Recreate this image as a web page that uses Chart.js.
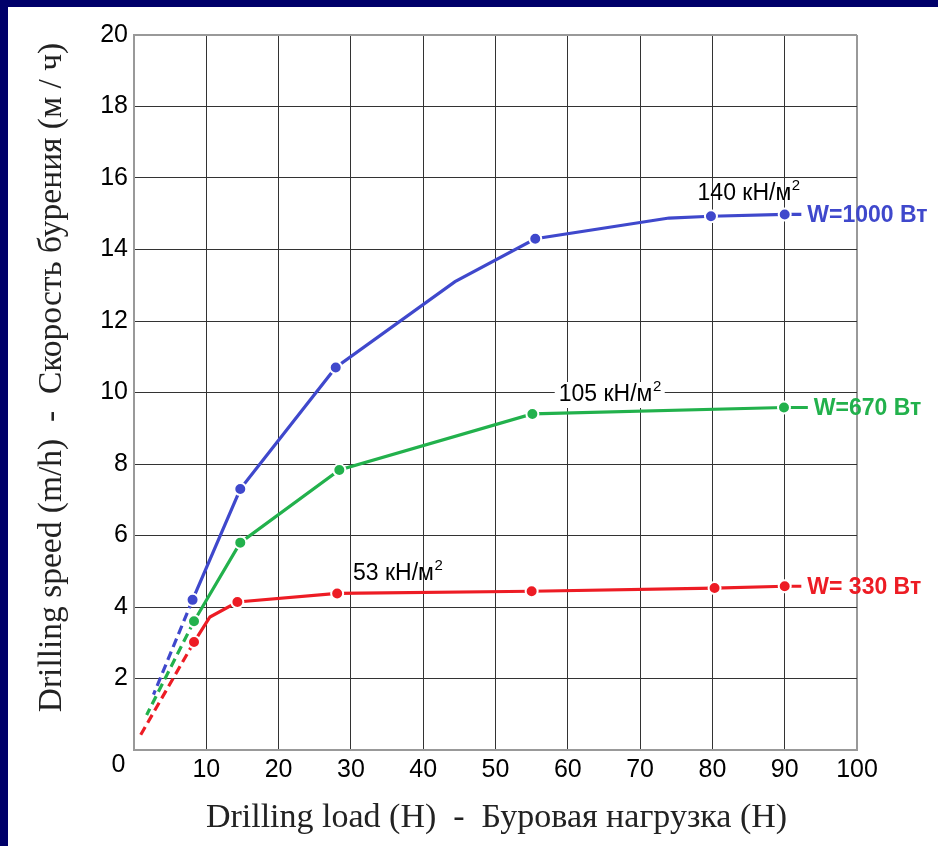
<!DOCTYPE html>
<html>
<head>
<meta charset="utf-8">
<script src="https://cdn.jsdelivr.net/npm/chart.js@4.4.1/dist/chart.umd.min.js"></script>
<style>
    html, body { margin: 0; padding: 0; background: #00006a; width: 938px; height: 846px; overflow: hidden; }
    #wrap { position: absolute; left: 8px; top: 7px; width: 930px; height: 839px; background: #fff; }
</style>
</head>
<body>
<div id="wrap"><canvas id="chart"></canvas></div>
<script>
// Drilling load (H) vs drilling speed (m/h), three power levels.
// "measured" = 1 for plotted dots, 0 for curve vertices between them.
const blueLoad     = [8.1, 14.7, 27.9, 44.4, 55.5, 74.0, 79.8, 90.0, 92.3];
const blueSpeed    = [4.2, 7.3, 10.7, 13.1, 14.3, 14.88, 14.93, 14.98, 14.98];
const blueMeasured = [1, 1, 1, 0, 1, 0, 1, 1, 0];
const blueExtrapLoad  = [8.1, 2.7];
const blueExtrapSpeed = [4.2, 1.55];

const greenLoad     = [8.3, 14.7, 28.4, 55.1, 89.9, 93.2];
const greenSpeed    = [3.6, 5.8, 7.83, 9.4, 9.58, 9.58];
const greenMeasured = [1, 1, 1, 1, 1, 0];
const greenExtrapLoad  = [8.3, 1.75];
const greenExtrapSpeed = [3.6, 0.98];

const redLoad     = [8.3, 10.5, 14.3, 28.1, 55.0, 80.3, 90.0, 92.3];
const redSpeed    = [3.02, 3.72, 4.14, 4.38, 4.44, 4.53, 4.58, 4.58];
const redMeasured = [1, 0, 1, 1, 1, 1, 1, 0];
const redExtrapLoad  = [8.3, 0.83];
const redExtrapSpeed = [3.02, 0.39];

const seriesNames = ['W=1000 Вт', 'W=670 Вт', 'W= 330 Вт'];
const pressureLabels = ['140 кН/м', '105 кН/м', '53 кН/м'];
const pressureLoad  = [85, 65.8, 30.3];
const pressureSpeed = [15.55, 9.93, 4.92];

const xTicks = [0, 10, 20, 30, 40, 50, 60, 70, 80, 90, 100];
const yTicks = [0, 2, 4, 6, 8, 10, 12, 14, 16, 18, 20];

const colors = ['#3f48cc', '#22b14c', '#ed1c24'];
const SANS = '"Liberation Sans", Arial, sans-serif';
const SERIF = '"Liberation Serif", "Times New Roman", serif';

function points(xs, ys) {
    return xs.map((x, i) => ({ x: x, y: ys[i] }));
}

function solidSet(xs, ys, measured, color, name) {
    return {
        label: name,
        data: points(xs, ys),
        borderColor: color,
        borderWidth: 3.2,
        pointRadius: measured.map(m => m ? 6 : 0),
        pointBackgroundColor: color,
        pointBorderColor: '#fff',
        pointBorderWidth: 2,
        tension: 0
    };
}

function dashedSet(xs, ys, color) {
    return {
        data: points(xs, ys),
        borderColor: color,
        borderWidth: 3.2,
        borderDash: [9, 5],
        pointRadius: 0,
        tension: 0
    };
}

const labelsPlugin = {
    id: 'labels',
    afterDraw(chart) {
        const { ctx, chartArea: a, scales: { x, y } } = chart;
        ctx.save();

        // axis titles
        ctx.fillStyle = '#222';
        ctx.textAlign = 'center';
        ctx.textBaseline = 'middle';
        ctx.font = '34px ' + SERIF;
        ctx.fillText('Drilling load (H)  -  Буровая нагрузка (H)', (a.left + a.right) / 2 + 1, a.bottom + 68);
        ctx.save();
        ctx.translate(a.left - 82, (a.top + a.bottom) / 2 - 15);
        ctx.rotate(-Math.PI / 2);
        ctx.font = '33.5px ' + SERIF;
        ctx.fillText('Drilling speed (m/h)  -  Скорость бурения (м / ч)', 0, 0);
        ctx.restore();

        // shared origin label
        ctx.fillStyle = '#000';
        ctx.font = '25px ' + SANS;
        ctx.fillText('0', x.getPixelForValue(0) - 15.5, y.getPixelForValue(0) + 15);

        // pressure annotations with superscript 2
        pressureLabels.forEach((t, i) => {
            ctx.font = '23px ' + SANS;
            const w = ctx.measureText(t).width;
            ctx.font = '15px ' + SANS;
            const ws = ctx.measureText('2').width;
            const cx = x.getPixelForValue(pressureLoad[i]);
            const cy = y.getPixelForValue(pressureSpeed[i]);
            const left = i === 2 ? cx : cx - (w + ws) / 2;
            if (i === 1) {
                ctx.fillStyle = '#fff';
                ctx.fillRect(left - 4, cy - 13, w + ws + 8, 26);
            }
            ctx.fillStyle = '#000';
            ctx.textAlign = 'left';
            ctx.textBaseline = 'middle';
            ctx.font = '23px ' + SANS;
            ctx.fillText(t, left, cy);
            ctx.font = '15px ' + SANS;
            ctx.fillText('2', left + w + 0.5, cy - 8);
        });

        // series names at line ends
        const ends = [
            [blueLoad, blueSpeed],
            [greenLoad, greenSpeed],
            [redLoad, redSpeed]
        ];
        ctx.font = 'bold 23px ' + SANS;
        ctx.textAlign = 'left';
        ctx.textBaseline = 'middle';
        ends.forEach(([xs, ys], i) => {
            const n = xs.length - 1;
            ctx.fillStyle = colors[i];
            ctx.fillText(seriesNames[i], x.getPixelForValue(xs[n]) + 6, y.getPixelForValue(ys[n]) + 1);
        });

        ctx.restore();
    }
};

const gridColor = edge => ctx => ctx.tick.value === edge ? '#999' : '#333';
const gridWidth = edge => ctx => ctx.tick.value === edge ? 2 : 1;

new Chart(document.getElementById('chart'), {
    type: 'line',
    data: {
        datasets: [
            solidSet(blueLoad, blueSpeed, blueMeasured, colors[0], seriesNames[0]),
            solidSet(greenLoad, greenSpeed, greenMeasured, colors[1], seriesNames[1]),
            solidSet(redLoad, redSpeed, redMeasured, colors[2], seriesNames[2]),
            dashedSet(blueExtrapLoad, blueExtrapSpeed, colors[0]),
            dashedSet(greenExtrapLoad, greenExtrapSpeed, colors[1]),
            dashedSet(redExtrapLoad, redExtrapSpeed, colors[2])
        ]
    },
    options: {
        responsive: true,
        maintainAspectRatio: false,
        animation: false,
        layout: { padding: { top: 28, right: 81, left: 0, bottom: 0 } },
        plugins: { legend: { display: false }, tooltip: { enabled: false } },
        scales: {
            x: {
                type: 'linear',
                min: xTicks[0],
                max: xTicks[xTicks.length - 1],
                afterBuildTicks: s => { s.ticks = xTicks.map(v => ({ value: v })); },
                afterFit: s => { s.height = 96; },
                ticks: {
                    padding: 5,
                    color: '#000',
                    font: { family: SANS, size: 25 },
                    callback: v => v === 0 ? '' : v
                },
                grid: { color: gridColor(100), lineWidth: gridWidth(100), drawTicks: false },
                border: { color: '#999', width: 2 }
            },
            y: {
                min: yTicks[0],
                max: yTicks[yTicks.length - 1],
                afterBuildTicks: s => { s.ticks = yTicks.map(v => ({ value: v })); },
                afterFit: s => { s.width = 126; },
                ticks: {
                    padding: 6,
                    color: '#000',
                    font: { family: SANS, size: 25 },
                    callback: v => v === 0 ? '' : v
                },
                grid: { color: gridColor(20), lineWidth: gridWidth(20), drawTicks: false },
                border: { color: '#999', width: 2 }
            }
        }
    },
    plugins: [labelsPlugin]
});
</script>
</body>
</html>
